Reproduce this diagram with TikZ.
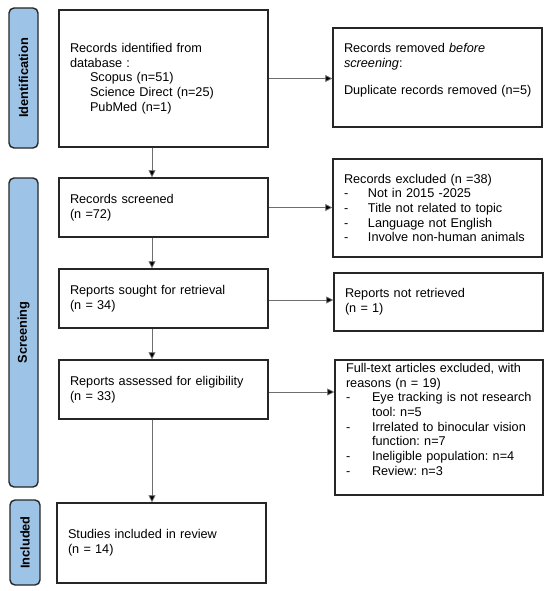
\documentclass[tikz,border=0pt]{standalone}
\usepackage{fontspec}
\setmainfont{Liberation Sans}
\usetikzlibrary{arrows.meta,calc}
\definecolor{barblue}{HTML}{9DC3E6}
\definecolor{edgedark}{HTML}{262626}
\definecolor{linegray}{HTML}{6E6E6E}
\frenchspacing
\begin{document}
\begin{tikzpicture}[x=1pt,y=-1pt,
  box/.style={draw=edgedark,line width=1.4pt,inner xsep=11pt,inner ysep=0pt,align=left,
    font=\fontsize{12.7}{14.7}\selectfont},
  bar/.style={draw=edgedark,fill=barblue,line width=1.4pt,rounded corners=5pt,inner sep=0pt},
  bartext/.style={rotate=90,font=\fontsize{12.8}{14}\selectfont\bfseries},
  arr/.style={draw=linegray,line width=0.8pt,-{Triangle[length=7pt,width=7pt,fill=black]}}]
\useasboundingbox (0,0) rectangle (550,591);
% phase bars
\node[bar,minimum width=29pt,minimum height=140pt] (barid) at (23.5,78) {};
\node[bartext] (tid) at (barid.center) {Identification};
\node[bar,minimum width=29pt,minimum height=309pt] (barsc) at (23.5,332.5) {};
\node[bartext] (tsc) at (barsc.center) {Screening};
\node[bar,minimum width=30pt,minimum height=85pt] (barin) at (25,542.5) {};
\node[bartext] (tin) at (barin.center) {Included};
% left column
\node[box,text width=187pt,minimum height=137pt] (b1) at (163.5,78.5)
 {Records identified from\\ database :\\ \hspace*{20pt}Scopus (n=51)\\ \hspace*{20pt}Science Direct (n=25)\\ \hspace*{20pt}PubMed (n=1)};
\node[box,text width=187pt,minimum height=59pt] (b2) at (163.5,207.5)
 {Records screened\\ (n =72)};
\node[box,text width=187pt,minimum height=59pt] (b3) at (163.5,298.5)
 {Reports sought for retrieval\\ (n = 34)};
\node[box,text width=187pt,minimum height=59pt] (b4) at (163.5,389.5)
 {Reports assessed for eligibility\\ (n = 33)};
\node[box,text width=187pt,minimum height=80pt] (b5) at (161.5,543)
 {Studies included in review\\ (n = 14)};
% right column
\node[box,text width=187pt,minimum height=99pt] (r1) at (437.5,77.5)
 {\mbox{Records removed \textit{before}}\\ \mbox{\textit{screening}:}\\[12pt] \mbox{Duplicate records removed (n=5)}\\[2.4pt]\mbox{}};
\node[box,text width=187pt,minimum height=98pt] (r2) at (437.5,208)
 {Records excluded (n =38)\\
  \makebox[24pt][l]{-}Not in 2015 -2025\\
  \makebox[24pt][l]{-}Title not related to topic\\
  \makebox[24pt][l]{-}Language not English\\
  \makebox[24pt][l]{-}\mbox{Involve non-human animals}};
\node[box,text width=187pt,minimum height=58pt] (r3) at (438.5,302)
 {Reports not retrieved\\ (n = 1)};
\node[box,text width=186pt,minimum height=135pt] (r4) at (439,427.5)
 {\mbox{Full-text articles excluded, with}\\ reasons (n = 19)\\
  \makebox[26pt][l]{-}\mbox{Eye tracking is not research}\\ \hspace*{26pt}tool: n=5\\
  \makebox[26pt][l]{-}\mbox{Irrelated to binocular vision}\\ \hspace*{26pt}function: n=7\\
  \makebox[26pt][l]{-}\mbox{Ineligible population: n=4}\\
  \makebox[26pt][l]{-}Review: n=3\\[2pt]\mbox{}};
% connectors
\coordinate (spine) at (152,0);
\draw[arr] (b1.south -| spine) -- (b2.north -| spine);
\draw[arr] (b2.south -| spine) -- (b3.north -| spine);
\draw[arr] (b3.south -| spine) -- (b4.north -| spine);
\draw[arr] (b4.south -| spine) -- (b5.north -| spine);
\draw[arr] (b1.east) -- (b1.east -| r1.west);
\draw[arr] (b2.east) -- (b2.east -| r2.west);
\draw[arr] ($(b3.east)+(0,1.5)$) -- ($(b3.east -| r3.west)+(0,1.5)$);
\draw[arr] ($(b4.east)+(0,2.5)$) -- ($(b4.east -| r4.west)+(0,2.5)$);
\end{tikzpicture}
\end{document}
